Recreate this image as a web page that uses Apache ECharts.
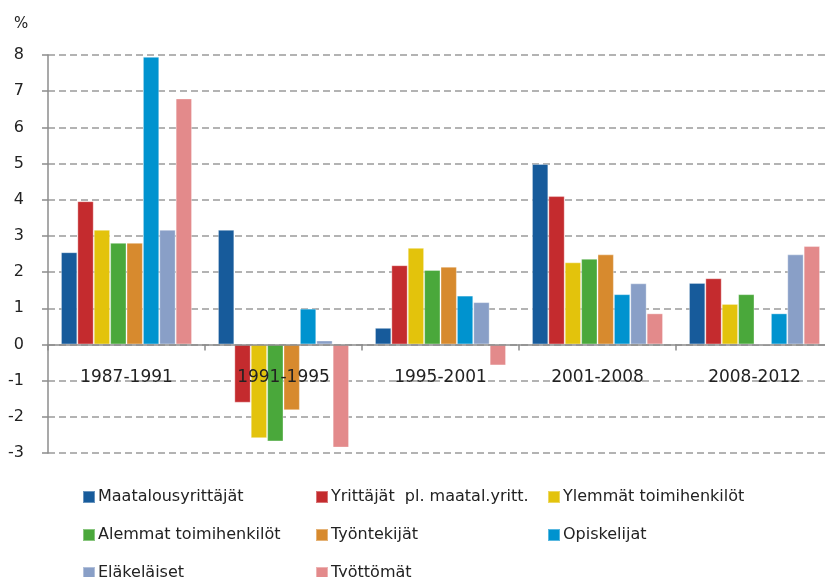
<!DOCTYPE html>
<html lang="fi">
<head>
    <meta charset="UTF-8">
    <title>Muutos</title>
    <script src="https://cdn.jsdelivr.net/npm/echarts@6/dist/echarts.min.js"></script>
    <style>
        html, body { margin: 0; padding: 0; background: #fff; overflow: hidden; }
        #chart { width: 835px; height: 577px; }
    </style>
</head>
<body>
    <div id="chart"></div>
    <script>
        // ajanjaksot
        var periods = ['1987-1991', '1991-1995', '1995-2001', '2001-2008', '2008-2012'];

        // sarjojen nimet ja arvot (%)
        var names = ['Maatalousyrittäjät', 'Yrittäjät  pl. maatal.yritt.', 'Ylemmät toimihenkilöt',
                     'Alemmat toimihenkilöt', 'Työntekijät', 'Opiskelijat', 'Eläkeläiset', 'Työttömät'];
        var maatalous   = [2.55, 3.17, 0.46, 4.99, 1.70];
        var yrittajat   = [3.96, -1.61, 2.19, 4.10, 1.83];
        var ylemmat     = [3.17, -2.59, 2.67, 2.27, 1.12];
        var alemmat     = [2.81, -2.68, 2.06, 2.37, 1.39];
        var tyontekijat = [2.81, -1.82, 2.15, 2.49, 0];
        var opiskelijat = [7.95, 0.99, 1.35, 1.39, 0.86];
        var elakelaiset = [3.17, 0.11, 1.17, 1.69, 2.49];
        var tyottomat   = [6.80, -2.85, -0.58, 0.86, 2.72];

        var values = [maatalous, yrittajat, ylemmat, alemmat, tyontekijat, opiskelijat, elakelaiset, tyottomat];
        var colors = ['#175b9b', '#c42b2e', '#e3c30c', '#4aa83b', '#d78a2e', '#0093cf', '#899fc7', '#e38a8b'];

        // legendan sijainnit (3 saraketta)
        var legendX = [77, 310, 542];
        var legendY = [484, 522, 560];

        var chart = echarts.init(document.getElementById('chart'));

        var series = names.map(function (n, i) {
            return {
                name: n,
                type: 'bar',
                data: values[i],
                barGap: '0%',
                barCategoryGap: '16.5%',
                itemStyle: { color: colors[i], borderColor: 'rgba(255,255,255,0.35)', borderWidth: 1 }
            };
        });

        var legends = names.map(function (n, i) {
            return {
                data: [n],
                left: legendX[i % 3],
                top: legendY[Math.floor(i / 3)],
                itemWidth: 12,
                itemHeight: 12,
                itemGap: 0,
                icon: 'rect',
                selectedMode: false,
                textStyle: { fontFamily: 'DejaVu Sans', fontSize: 16, color: '#222', padding: [0, 0, 0, -2] }
            };
        });

        var option = {
            animation: false,
            title: {
                text: '%',
                left: 9,
                top: 12,
                textStyle: { fontFamily: 'DejaVu Sans', fontSize: 15, fontWeight: 'normal', color: '#222' }
            },
            legend: legends,
            grid: { left: 48, right: 2, top: 55, bottom: 124, containLabel: false },
            xAxis: {
                type: 'category',
                data: periods,
                z: 5,
                axisLine: { onZero: true, lineStyle: { color: '#8c8c8c', width: 1.5 } },
                axisTick: { show: true, length: 6, lineStyle: { color: '#8c8c8c', width: 1.5 } },
                axisLabel: { margin: -84, fontFamily: 'DejaVu Sans', fontSize: 17, color: '#222' }
            },
            yAxis: {
                type: 'value',
                min: -3,
                max: 8,
                interval: 1,
                axisLine: { show: true, lineStyle: { color: '#8c8c8c', width: 1.5 } },
                axisTick: { show: true, length: 6, lineStyle: { color: '#8c8c8c', width: 1.5 } },
                axisLabel: { margin: 24, fontFamily: 'DejaVu Sans', fontSize: 16, color: '#222' },
                splitLine: { show: true, lineStyle: { color: '#9a9a9a', width: 1.5, type: [7, 4] } }
            },
            series: series
        };

        chart.setOption(option);
    </script>
</body>
</html>
